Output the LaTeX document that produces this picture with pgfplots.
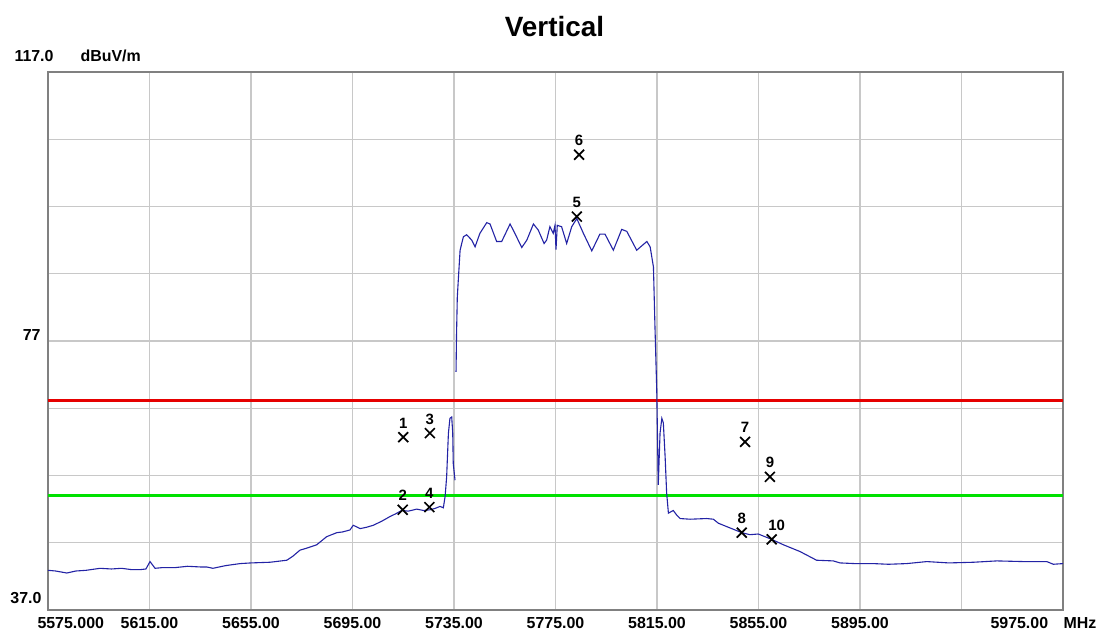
\documentclass[border=0pt]{standalone}
\usepackage{pgfplots}
\pgfplotsset{compat=1.18}
\usepackage{fontspec}
\setmainfont{Liberation Sans}
\definecolor{trace}{RGB}{35,35,165}
\definecolor{gridc}{RGB}{200,200,200}
\definecolor{framec}{RGB}{128,128,128}
\definecolor{limred}{RGB}{230,0,0}
\definecolor{limgreen}{RGB}{0,225,0}
\newcommand{\lab}{\fontsize{16}{17}\selectfont\bfseries}
\newcommand{\mlab}{\fontsize{15}{16}\selectfont\bfseries}
\begin{document}
\begin{tikzpicture}
\path[use as bounding box] (0,0) rectangle (1099bp,630bp);
\begin{axis}[
  at={(48bp,20bp)}, anchor=south west,
  scale only axis, width=1015bp, height=538bp,
  xmin=5575, xmax=5975, ymin=37, ymax=117,
  xtick={5575,5615,5655,5695,5735,5775,5815,5855,5895,5935,5975},
  ytick={37,47,57,67,77,87,97,107,117},
  xticklabels={,5615.00,5655.00,5695.00,5735.00,5775.00,5815.00,5855.00,5895.00,,},
  yticklabels={},
  xticklabel style={font=\lab, anchor=base, yshift=-18bp},
  major tick length=0pt,
  grid=major, grid style={gridc, line width=1.2bp},
  axis line style={framec, line width=2bp},
  clip=false,
]
\addplot[limred, line width=3bp] coordinates {(5575,68.2) (5975,68.2)};
\addplot[limgreen, line width=3bp] coordinates {(5575,54.0) (5975,54.0)};
\addplot[trace, line width=1.1bp] coordinates {
(5575.0,42.9) (5578.0,42.8) (5582.4,42.5) (5586.0,42.8) (5590.0,42.9) (5595.5,43.2) (5600.0,43.1)
(5604.0,43.2) (5608.0,43.0) (5611.3,43.0) (5613.6,43.1) (5615.2,44.2) (5617.2,43.2) (5620.0,43.3)
(5625.0,43.3) (5630.0,43.5) (5635.0,43.4) (5637.5,43.4) (5640.0,43.2) (5645.0,43.6) (5650.7,43.9)
(5655.0,44.0) (5662.5,44.1) (5669.1,44.4) (5671.5,45.0) (5674.3,45.9) (5677.0,46.2) (5680.9,46.7)
(5684.8,47.9) (5688.8,48.5) (5691.0,48.6) (5694.0,48.9) (5695.3,49.6) (5698.0,49.1) (5700.5,49.3)
(5703.2,49.6) (5706.5,50.2) (5709.8,50.9) (5712.0,51.3) (5714.4,51.8) (5717.0,51.7) (5720.3,52.0)
(5723.0,51.8) (5725.5,51.9) (5727.5,52.1) (5729.5,52.4) (5730.8,52.2) (5731.5,53.9) (5732.1,56.8)
(5732.8,63.3) (5733.4,65.5) (5734.1,65.7) (5734.5,63.3) (5734.7,58.8) (5735.4,56.3)
};
\addplot[trace, line width=1.1bp] coordinates {
(5735.8,72.4) (5736.0,78.0) (5736.3,83.5) (5736.7,86.1) (5737.4,90.5) (5738.7,92.5) (5740.0,92.8)
(5742.0,92.0) (5743.3,91.0) (5745.2,93.0) (5747.9,94.6) (5749.2,94.4) (5751.8,91.8) (5753.8,91.8)
(5757.1,94.4) (5759.0,93.0) (5761.7,90.9) (5763.7,92.0) (5766.3,94.4) (5768.2,93.5) (5770.5,91.5)
(5771.5,92.0) (5772.8,94.0) (5774.1,93.0) (5774.8,94.2) (5775.2,90.6) (5775.7,94.2) (5777.4,94.0)
(5779.4,91.5) (5781.4,94.0) (5783.4,95.2) (5786.0,93.0) (5789.3,90.4) (5792.5,92.9) (5794.5,92.9)
(5797.8,90.5) (5801.1,93.6) (5803.1,93.3) (5807.0,90.5) (5811.0,91.8) (5812.3,91.0) (5813.6,88.0)
(5814.2,79.1) (5814.9,69.7) (5815.5,55.6) (5816.2,63.3) (5816.9,65.5) (5817.5,64.8) (5818.2,59.8)
(5818.8,54.4) (5819.5,51.4) (5821.4,51.8) (5822.8,51.1) (5824.1,50.6) (5828.0,50.5) (5834.6,50.6)
(5837.2,50.5) (5839.2,49.9) (5843.8,49.2) (5848.4,48.5) (5851.6,48.2) (5854.9,48.3) (5860.2,47.5)
(5864.8,46.7) (5871.3,45.7) (5877.9,44.4) (5884.5,44.3) (5887.1,44.0) (5893.0,43.9) (5900.2,43.9)
(5906.2,43.8) (5913.4,43.9) (5921.3,44.2) (5930.0,44.0) (5939.7,44.1) (5948.9,44.3) (5959.4,44.2)
(5968.6,44.2) (5971.2,43.8) (5975.0,43.9)
};
\addplot[only marks, mark=x, mark size=7bp, mark options={black, line width=1.7bp},
  nodes near coords, point meta=explicit symbolic,
  nodes near coords align={anchor=base},
  every node near coord/.append style={font=\mlab, black, anchor=base, yshift=9bp, inner sep=0pt}]
coordinates {
(5715.0,62.7) [1] (5714.8,51.9) [2] (5725.5,63.3) [3] (5725.3,52.3) [4]
(5783.4,95.5) [5] (5784.3,104.7) [6] (5849.7,62.0) [7] (5848.4,48.5) [8] (5859.5,56.8) [9]
};
\addplot[only marks, mark=x, mark size=7bp, mark options={black, line width=1.7bp},
  nodes near coords, point meta=explicit symbolic,
  nodes near coords align={anchor=base},
  every node near coord/.append style={font=\mlab, black, anchor=base, yshift=9bp, xshift=5bp, inner sep=0pt}]
coordinates {(5860.2,47.5) [10]};
\node[font=\lab, anchor=base east, xshift=-4bp] at (axis cs:5575,77) {77};
\node[font=\lab, anchor=base east, xshift=-3bp, yshift=7bp] at (axis cs:5575,37) {37.0};
\node[font=\lab, anchor=base west, xshift=-37bp, yshift=10bp] at (axis cs:5575,117) {117.0};
\node[font=\lab, anchor=base west, xshift=29bp, yshift=10bp] at (axis cs:5575,117) {dBuV/m};
\node[font=\lab, anchor=base west, xshift=-14bp, yshift=-18bp] at (axis cs:5575,37) {5575.000};
\node[font=\lab, anchor=base west, xshift=-76bp, yshift=-18bp] at (axis cs:5975,37) {5975.00};
\node[font=\lab, anchor=base west, xshift=-3bp, yshift=-18bp] at (axis cs:5975,37) {MHz};
\end{axis}
\node[font=\fontsize{28}{30}\selectfont\bfseries, anchor=base] at (554.5bp,593bp) {Vertical};
\end{tikzpicture}
\end{document}
